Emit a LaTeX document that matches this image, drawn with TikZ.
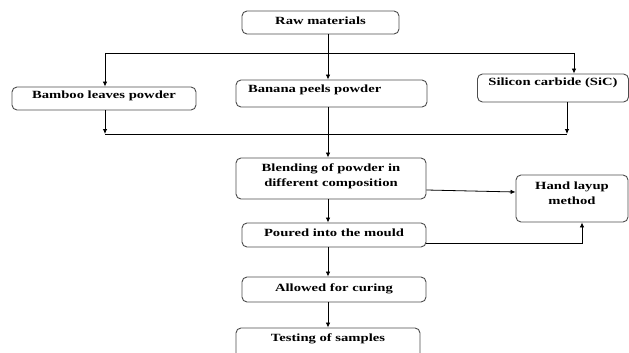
\documentclass[tikz,border=0pt]{standalone}
\usepackage{fontspec}
\setmainfont[FakeStretch=1.33]{Liberation Serif}
\usetikzlibrary{arrows.meta}

\begin{document}
\begin{tikzpicture}[x=1pt,y=-1pt,
    box/.style={draw=black!70,line width=0.9pt,rounded corners=5pt,inner sep=0pt,align=center,
        font=\fontsize{11}{15}\selectfont\bfseries,text height=8pt,text depth=2.5pt},
    arr/.style={-{Latex[length=5pt,width=4.5pt]},line width=0.8pt}]
    \useasboundingbox (0,0) rectangle (629,353);
    \coordinate (m) at (328,0);
    \coordinate (t1) at (105,53);
    \coordinate (t2) at (574,53);
    \coordinate (b1) at (105,134);
    \coordinate (b2) at (567,134);

    \node[box,minimum width=157pt,minimum height=23pt,text depth=4.5pt] at (320.5, 22.5)(1) {Raw materials};
    \node[box,minimum width=184pt,minimum height=23pt,text depth=7.5pt] at (104, 98.5)(2) {Bamboo leaves powder};
    \node[box,minimum height=27pt,inner xsep=12pt,text width=167pt,align=left,text depth=9.5pt] at (331.5, 93.5)(3) {Banana peels powder};
    \node[box,minimum width=151pt,minimum height=28pt,text depth=12.5pt] at (553, 88)(4) {Silicon carbide (SiC)};
    \node[box,minimum width=190pt,minimum height=41pt,text height=23pt,text depth=6.5pt] at (331, 178.5)(5) {Blending of powder in\\different composition};
    \node[box,minimum width=112pt,minimum height=47pt,text height=23pt,text depth=10.5pt] at (572, 198.5)(6) {Hand layup\\method};
    \node[box,minimum width=184pt,minimum height=24pt,text depth=5.5pt] at (334, 235)(7) {Poured into the mould};
    \node[box,minimum width=184pt,minimum height=25pt,text depth=4.5pt] at (334, 289.5)(8) {Allowed for curing};
    \node[box,minimum width=184pt,minimum height=30pt,text depth=10.5pt] at (328, 343)(9) {Testing of samples};

    \draw[arr] (1.south -| m) -- (3.north -| m);
    \draw[line width=0.8pt] (t1) -- (t2);
    \draw[arr] (t1) -- (2.north -| t1);
    \draw[arr] (t2) -- (4.north -| t2);
    \draw[arr] (2.south -| b1) -- (b1);
    \draw[arr] (4.south -| b2) -- (b2);
    \draw[line width=0.8pt] (b1) -- (b2);
    \draw[arr] (3.south -| m) -- (5.north -| m);
    \draw[arr] ([yshift=-11.5pt]5.east) -- ([yshift=6.5pt]6.west);
    \draw[arr] ([yshift=-8pt]7.east) -| ([xshift=10pt]6.south);
    \draw[arr] (5.south -| m) -- (7.north -| m);
    \draw[arr] (7.south -| m) -- (8.north -| m);
    \draw[arr] (8.south -| m) -- (9.north -| m);
\end{tikzpicture}
\end{document}
